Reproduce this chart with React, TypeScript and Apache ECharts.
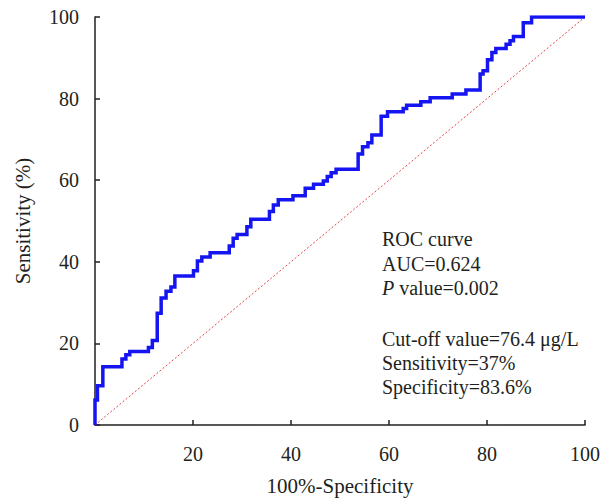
import React, { useEffect, useRef } from "react";
import * as echarts from "echarts";

// ROC curve points (100% - specificity, sensitivity), drawn as a step line
const fpr = [
  0, 0, 0.5, 1.6, 5.5, 6.3, 7.1, 10.9, 11.7, 12.7, 13.5, 14.5, 15.5, 16.3,
  20.1, 20.9, 21.8, 23.5, 27.4, 28.2, 29.0, 31.0, 31.8, 35.6, 36.4, 37.4,
  40.4, 42.9, 44.6, 46.6, 47.4, 48.2, 49.2, 53.7, 54.6, 55.7, 56.5, 58.4,
  59.7, 62.9, 63.6, 66.5, 68.4, 72.9, 75.7, 78.6, 79.2, 80.1, 81.0, 81.8,
  83.9, 84.7, 85.4, 87.4, 89.1, 100,
];
const tpr = [
  0, 6.1, 9.6, 14.3, 16.2, 17.2, 18.0, 19.0, 20.7, 27.4, 31.1, 32.8, 33.8, 36.5,
  37.8, 40.2, 41.2, 42.2, 43.9, 45.8, 46.7, 48.6, 50.4, 52.3, 53.9, 55.2,
  56.2, 58.0, 59.0, 59.8, 60.9, 61.8, 62.7, 66.4, 68.2, 69.2, 71.1, 75.7,
  76.8, 77.6, 78.4, 79.2, 80.2, 81.1, 82.1, 86.0, 86.8, 89.5, 91.3, 92.3,
  93.3, 94.2, 95.2, 98.6, 100, 100,
];
// reference (chance) line
const diagX = [0, 100];
const diagY = [0, 100];

const annotationTop = ["ROC curve", "AUC=0.624"];
const pValueText = " value=0.002";
const annotationBottom = ["Cut-off value=76.4 \u03bcg/L", "Sensitivity=37%", "Specificity=83.6%"];

const FONT = "'Liberation Serif', 'DejaVu Serif', serif";
const INK = "#231f20";
const ANN_SIZE = 20;

export default function App() {
  const ref = useRef<HTMLDivElement>(null);
  useEffect(() => {
    document.body.style.margin = "0";
    if (!ref.current) return;
    const chart = echarts.init(ref.current, undefined, { renderer: "svg" });
    const textEl = (y: number, text: string) => ({
      type: "text",
      x: 382,
      y,
      style: {
        text,
        fill: INK,
        fontFamily: FONT,
        fontSize: ANN_SIZE,
        verticalAlign: "middle",
        align: "left",
      },
    });
    chart.setOption({
      animation: false,
      backgroundColor: "#ffffff",
      grid: { left: 95, right: 25, top: 17, bottom: 76, containLabel: false },
      xAxis: {
        type: "value",
        min: 0,
        max: 100,
        interval: 20,
        name: "100%-Specificity",
        nameLocation: "middle",
        nameGap: 50,
        nameTextStyle: { fontFamily: FONT, fontSize: 21, color: INK },
        axisLine: { show: true, onZero: false, lineStyle: { color: INK, width: 1.5 } },
        axisTick: { show: true, inside: true, length: 5, lineStyle: { color: INK, width: 1.5 } },
        axisLabel: {
          margin: 19,
          fontFamily: FONT,
          fontSize: 20,
          color: INK,
          formatter: (v: number) => (v === 0 ? "" : String(v)),
        },
        splitLine: { show: false },
      },
      yAxis: {
        type: "value",
        min: 0,
        max: 100,
        interval: 20,
        name: "Sensitivity (%)",
        nameLocation: "middle",
        nameGap: 62,
        nameTextStyle: { fontFamily: FONT, fontSize: 21, color: INK },
        axisLine: { show: true, onZero: false, lineStyle: { color: INK, width: 1.5 } },
        axisTick: { show: true, inside: true, length: 5, lineStyle: { color: INK, width: 1.5 } },
        axisLabel: { margin: 16, fontFamily: FONT, fontSize: 20, color: INK },
        splitLine: { show: false },
      },
      series: [
        {
          type: "line",
          data: diagX.map((x, i) => [x, diagY[i]]),
          symbol: "none",
          silent: true,
          lineStyle: { color: "#e2454a", width: 1, type: [2, 2] },
          z: 1,
        },
        {
          type: "line",
          data: fpr.map((x, i) => [x, tpr[i]]),
          step: "end",
          symbol: "none",
          silent: true,
          lineStyle: { color: "#1515f2", width: 3.5, join: "miter", cap: "butt", miterLimit: 10 },
          z: 2,
        },
      ],
      graphic: [
        textEl(239, annotationTop[0]),
        textEl(263.5, annotationTop[1]),
        {
          type: "text",
          x: 382,
          y: 288,
          style: {
            text: "{i|P}" + pValueText,
            fill: INK,
            fontFamily: FONT,
            fontSize: ANN_SIZE,
            verticalAlign: "middle",
            align: "left",
            rich: {
              i: { fontStyle: "italic", fontFamily: FONT, fontSize: ANN_SIZE, fill: INK },
            },
          },
        },
        textEl(339, annotationBottom[0]),
        textEl(363, annotationBottom[1]),
        textEl(387, annotationBottom[2]),
      ],
    });
    return () => chart.dispose();
  }, []);
  return <div ref={ref} style={{ width: 610, height: 501 }} />;
}
